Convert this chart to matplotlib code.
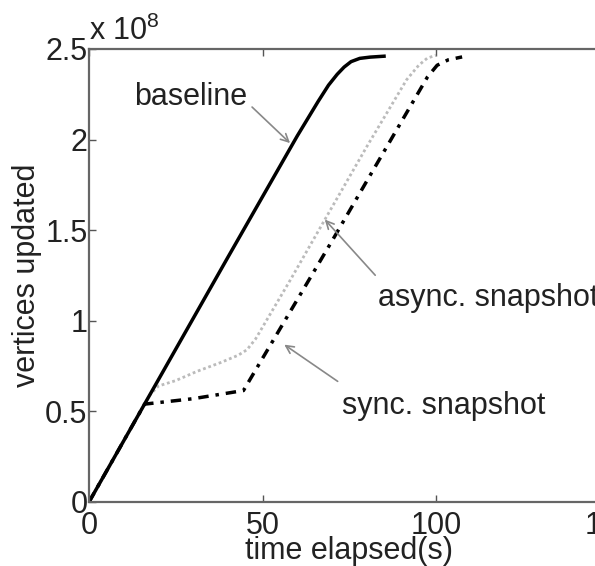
import matplotlib
matplotlib.use("Agg")
import matplotlib.pyplot as plt
from matplotlib.ticker import FuncFormatter

# values, y in units of 1e8 vertices
base_t = [0, 16, 40, 60, 66, 69, 71.5, 73.5, 75.5, 78, 81, 85]
base_v = [0, 0.54, 1.35, 2.02, 2.21, 2.30, 2.36, 2.40, 2.43, 2.448, 2.455, 2.46]

sync_t = [0, 16, 30, 44.5, 53, 70, 80, 97.5, 100.3, 103.5, 107.5]
sync_v = [0, 0.54, 0.57, 0.615, 0.89, 1.44, 1.77, 2.345, 2.41, 2.44, 2.456]

async_t = [0, 17.5, 20, 25, 31, 38, 43, 45.5, 48, 52, 58, 68, 80, 91.5, 95, 97.5, 100]
async_v = [0, 0.59, 0.64, 0.67, 0.72, 0.77, 0.81, 0.84, 0.9, 1.03, 1.225, 1.56, 1.96, 2.33, 2.41, 2.45, 2.465]

xticks = [0, 50, 100, 150]
yticks = [0, 0.5, 1, 1.5, 2, 2.5]

plt.rcParams['font.family'] = ['Liberation Sans', 'DejaVu Sans']
plt.rcParams['mathtext.fontset'] = 'custom'
plt.rcParams['mathtext.rm'] = 'Liberation Sans'

fs = 22
tc = '#222222'

fig = plt.figure(figsize=(5.95, 5.66), dpi=100)
# axes run past the right edge, like the cropped original
ax = fig.add_axes([0.1496, 0.1131, 0.875, 0.8004])

ax.plot(async_t, async_v, color='#bbbbbb', lw=2, linestyle=(0, (1, 1)))
ax.plot(sync_t, sync_v, color='black', lw=2.5, linestyle=(0, (3, 2, 1, 2)))
ax.plot(base_t, base_v, color='black', lw=2.5)

ax.set_xlim(0, 150)
ax.set_ylim(0, 2.5)
ax.set_xticks(xticks)
ax.set_yticks(yticks)
ax.yaxis.set_major_formatter(FuncFormatter(lambda v, p: '%g' % v))

for s in ax.spines.values():
    s.set_color('#666666')
    s.set_linewidth(1.6)
ax.tick_params(direction='in', length=5, width=1, color='#555555',
               top=True, right=True, labelsize=fs, labelcolor=tc)
ax.tick_params(axis='x', pad=6.5)
ax.tick_params(axis='y', pad=1)

ax.set_xlabel('time elapsed(s)', fontsize=fs, labelpad=-3.5, color=tc)
ax.set_ylabel('vertices updated', fontsize=fs, labelpad=2, color=tc)
ax.text(0.0, 1.005, r'x 10$^{8}$', transform=ax.transAxes, fontsize=fs,
        ha='left', va='bottom', color=tc)

arr = dict(arrowstyle='->', color='#888888', lw=1.2, mutation_scale=14)
ax.annotate('', xy=(58.5, 1.97), xytext=(46.4, 2.19), arrowprops=arr)
ax.text(29.4, 2.235, 'baseline', fontsize=fs, ha='center', va='center', color=tc)
ax.annotate('', xy=(67.4, 1.57), xytext=(83, 1.24), arrowprops=arr)
ax.text(83.3, 1.126, 'async. snapshot', fontsize=fs, ha='left', va='center', color=tc)
ax.annotate('', xy=(55.6, 0.877), xytext=(72.3, 0.657), arrowprops=arr)
ax.text(72.9, 0.53, 'sync. snapshot', fontsize=fs, ha='left', va='center', color=tc)

fig.savefig('out.png', dpi=100)
